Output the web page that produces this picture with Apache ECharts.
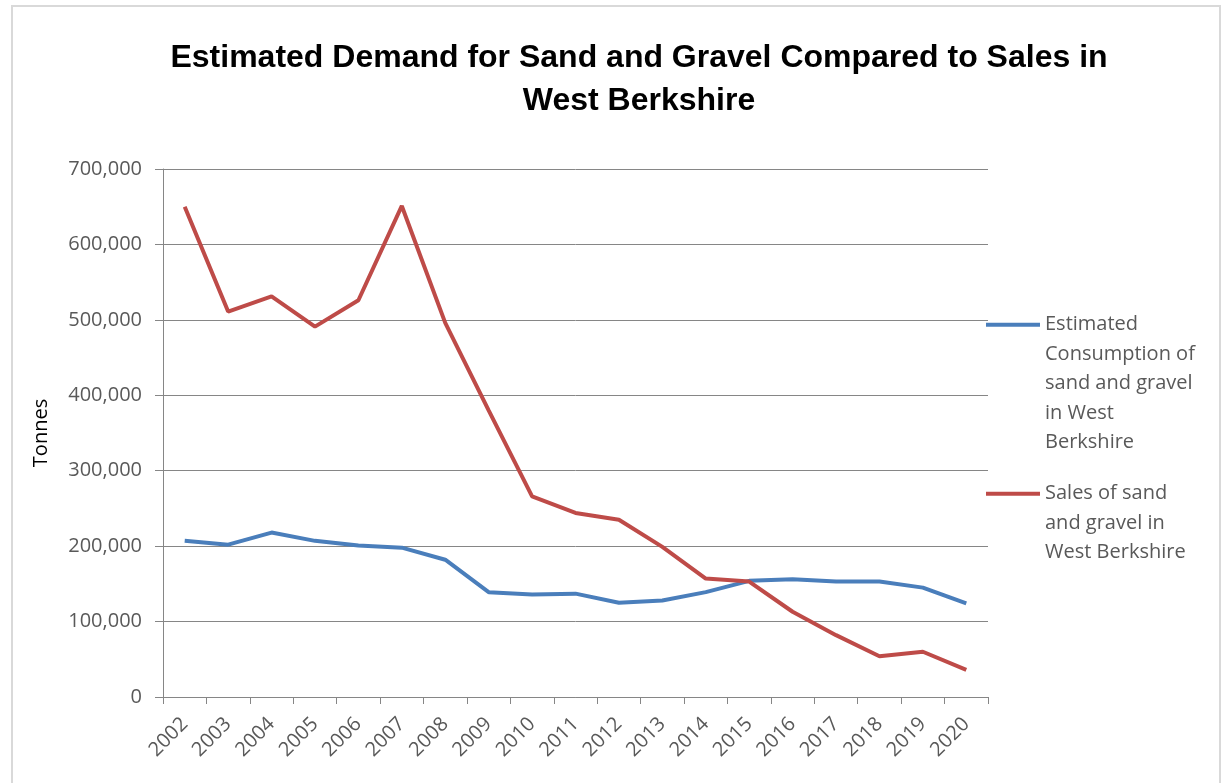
<!DOCTYPE html>
<html>
<head>
<meta charset="utf-8">
<script src="https://cdn.jsdelivr.net/npm/echarts@6/dist/echarts.min.js"></script>
<style>
  html, body { margin: 0; padding: 0; background: #fff; }
  #chart { width: 1221px; height: 783px; }
</style>
</head>
<body>
<div id="chart"></div>
<script>
const years = ["2002", "2003", "2004", "2005", "2006", "2007", "2008", "2009", "2010", "2011",
  "2012", "2013", "2014", "2015", "2016", "2017", "2018", "2019", "2020"];
const consumption = [207000, 202000, 218000, 207000, 201000, 198000, 182000, 139000, 136000, 137000,
  125000, 128000, 139000, 154000, 156000, 153000, 153000, 145000, 124000];
const sales = [650000, 511000, 531000, 491000, 526000, 651000, 496000, 380000, 266000, 244000,
  235000, 199000, 157000, 153000, 113000, 82000, 54000, 60000, 36000];
const seriesNames = [
  "Estimated Consumption of sand and gravel in West Berkshire",
  "Sales of sand and gravel in West Berkshire"
];
// how the legend text wraps in the picture
const legendLines = [
  ["Estimated", "Consumption of", "sand and gravel", "in West", "Berkshire"],
  ["Sales of sand", "and gravel in", "West Berkshire"]
];

const colors = ["#4a7ebb", "#be4b48"];
const labelFont = "Open Sans";
const lineH = 29.5;

const myChart = echarts.init(document.getElementById("chart"));

function makeLegend(i, top) {
  const lines = legendLines[i];
  return {
    data: [seriesNames[i]],
    orient: "vertical",
    left: 986,
    top: top,
    padding: 0,
    icon: "rect",
    itemWidth: 54,
    itemHeight: 4,
    selectedMode: false,
    formatter: function () {
      // blank lines in front so the first real line sits level with the symbol
      const blanks = [];
      for (let k = 1; k < lines.length; k++) blanks.push(" ");
      return blanks.concat(lines).join("\n");
    },
    textStyle: {
      color: "#595959",
      fontFamily: labelFont,
      fontSize: 20,
      lineHeight: lineH
    }
  };
}

const option = {
  animation: false,
  color: colors,
  title: {
    text: "Estimated Demand for Sand and Gravel Compared to Sales in\nWest Berkshire",
    left: 639,
    top: 37,
    textAlign: "center",
    padding: 0,
    textStyle: {
      fontFamily: "Liberation Sans",
      fontWeight: "bold",
      fontSize: 32,
      lineHeight: 43,
      color: "#000"
    }
  },
  legend: [makeLegend(0, 192), makeLegend(1, 420)],
  grid: {
    left: 163,
    right: 233,
    top: 169,
    bottom: 86,
    containLabel: false
  },
  xAxis: {
    type: "category",
    data: years,
    boundaryGap: true,
    axisLine: { lineStyle: { color: "#868686", width: 1 } },
    axisTick: { show: true, length: 7, lineStyle: { color: "#868686" } },
    axisLabel: {
      rotate: 45,
      interval: 0,
      margin: 24,
      color: "#595959",
      fontFamily: labelFont,
      fontSize: 20
    },
    splitLine: { show: false }
  },
  yAxis: {
    type: "value",
    min: 0,
    max: 700000,
    interval: 100000,
    name: "Tonnes",
    nameLocation: "middle",
    nameGap: 112,
    nameTextStyle: {
      color: "#000",
      fontFamily: labelFont,
      fontSize: 20
    },
    axisLine: { show: true, lineStyle: { color: "#868686", width: 1 } },
    axisTick: { show: true, length: 8, lineStyle: { color: "#868686" } },
    axisLabel: {
      margin: 21,
      color: "#595959",
      fontFamily: labelFont,
      fontSize: 20,
      formatter: function (v) {
        return v.toLocaleString("en-GB");
      }
    },
    splitLine: { show: true, lineStyle: { color: "#868686", width: 1 } }
  },
  series: [
    {
      name: seriesNames[0],
      type: "line",
      data: consumption,
      symbol: "none",
      lineStyle: { width: 4, color: colors[0] },
      itemStyle: { color: colors[0] }
    },
    {
      name: seriesNames[1],
      type: "line",
      data: sales,
      symbol: "none",
      lineStyle: { width: 4, color: colors[1] },
      itemStyle: { color: colors[1] }
    }
  ],
  graphic: [
    {
      type: "rect",
      shape: { x: 12, y: 6, width: 1208, height: 800 },
      style: { fill: null, stroke: "#d9d9d9", lineWidth: 2 },
      silent: true,
      z: -1
    }
  ]
};

myChart.setOption(option);
</script>
</body>
</html>
